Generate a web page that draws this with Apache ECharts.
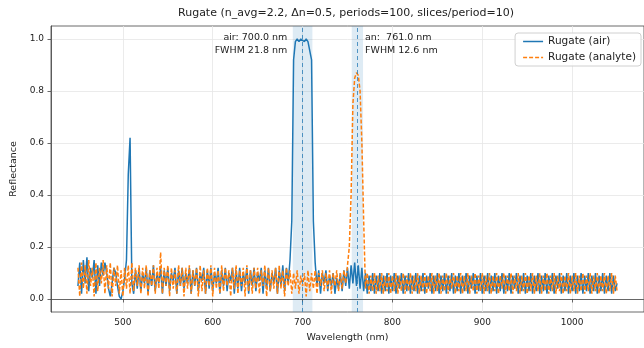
<!DOCTYPE html>
<html><head><meta charset="utf-8">
<script src="https://cdn.jsdelivr.net/npm/echarts@6/dist/echarts.min.js"></script>
<style>html,body{margin:0;padding:0;background:#fff}#c{width:644px;height:348px}</style>
</head><body><div id="c"></div>
<script>
const titleText = 'Rugate (n_avg=2.2, \u0394n=0.5, periods=100, slices/period=10)';
const seriesNames = ['Rugate (air)', 'Rugate (analyte)'];
const xAxisName = 'Wavelength (nm)';
const yAxisName = 'Reflectance';
const xTicks = [500, 600, 700, 800, 900, 1000];
const yTicks = [0, 0.2, 0.4, 0.6, 0.8, 1.0];
// sampling grid of the spectra (nm)
const wlStart = 450, wlStep = 2;
const airR = [
0.05,0.14,0.02,0.15,0.06,0.16,0.03,0.12,0.08,0.15,
0.02,0.13,0.05,0.14,0.09,0.14,0.10,0.04,0.01,0.06,
0.12,0.10,0.05,0.01,0.00,0.03,0.08,0.15,0.48,0.62,
0.06,0.02,0.11,0.04,0.12,0.03,0.10,0.06,0.12,0.02,
0.11,0.05,0.13,0.03,0.10,0.06,0.12,0.02,0.11,0.05,
0.12,0.03,0.10,0.07,0.12,0.02,0.11,0.05,0.12,0.04,
0.10,0.06,0.12,0.02,0.11,0.05,0.12,0.03,0.10,0.07,
0.12,0.02,0.11,0.04,0.12,0.03,0.10,0.06,0.12,0.02,
0.11,0.05,0.12,0.03,0.10,0.07,0.12,0.02,0.11,0.04,
0.12,0.03,0.10,0.06,0.12,0.02,0.11,0.05,0.12,0.03,
0.10,0.07,0.12,0.02,0.11,0.04,0.12,0.03,0.10,0.06,
0.12,0.02,0.11,0.05,0.13,0.03,0.12,0.06,0.15,0.30,
0.92,0.99,1.00,0.99,1.00,1.00,0.99,1.00,0.99,0.99,
0.92,0.30,0.14,0.05,0.11,0.02,0.10,0.06,0.11,0.03,
0.09,0.05,0.10,0.02,0.08,0.04,0.10,0.03,0.11,0.05,
0.12,0.04,0.13,0.06,0.14,0.05,0.13,0.04,0.12,0.03,
0.10,0.02,0.09,0.03,0.10,0.02,0.09,0.03,0.10,0.02,
0.09,0.03,0.10,0.02,0.09,0.03,0.10,0.02,0.09,0.04,
0.10,0.02,0.09,0.03,0.10,0.02,0.09,0.03,0.10,0.02,
0.09,0.03,0.10,0.02,0.09,0.04,0.10,0.02,0.09,0.03,
0.10,0.02,0.09,0.03,0.10,0.02,0.09,0.03,0.10,0.02,
0.09,0.03,0.10,0.02,0.09,0.03,0.10,0.02,0.09,0.04,
0.10,0.02,0.09,0.03,0.10,0.02,0.09,0.03,0.10,0.02,
0.09,0.03,0.10,0.02,0.09,0.03,0.10,0.02,0.09,0.03,
0.10,0.02,0.09,0.04,0.10,0.02,0.09,0.03,0.10,0.02,
0.09,0.03,0.10,0.02,0.09,0.03,0.10,0.02,0.09,0.03,
0.10,0.02,0.09,0.03,0.10,0.02,0.09,0.04,0.10,0.02,
0.09,0.03,0.10,0.02,0.09,0.03,0.10,0.02,0.09,0.03,
0.10,0.02,0.09,0.03,0.10,0.02,0.09,0.03,0.10,0.02,
0.09,0.03,0.10,0.02,0.09,0.03,0.10,0.02,0.09,0.03,
0.06
];
const analyteR = [
0.12,0.01,0.14,0.04,0.13,0.02,0.15,0.05,0.12,0.01,
0.14,0.03,0.12,0.06,0.15,0.02,0.13,0.04,0.14,0.01,
0.12,0.05,0.13,0.02,0.11,0.01,0.12,0.04,0.13,0.02,
0.14,0.03,0.12,0.05,0.13,0.02,0.12,0.04,0.13,0.01,
0.11,0.05,0.13,0.02,0.12,0.04,0.18,0.02,0.12,0.05,
0.13,0.01,0.12,0.04,0.11,0.02,0.13,0.05,0.12,0.01,
0.12,0.04,0.13,0.02,0.11,0.05,0.12,0.01,0.13,0.03,
0.11,0.02,0.12,0.05,0.13,0.01,0.12,0.04,0.11,0.02,
0.13,0.03,0.12,0.05,0.11,0.01,0.12,0.04,0.13,0.02,
0.11,0.05,0.12,0.01,0.13,0.03,0.11,0.02,0.12,0.04,
0.12,0.02,0.11,0.05,0.13,0.01,0.12,0.03,0.11,0.04,
0.12,0.02,0.13,0.04,0.11,0.01,0.12,0.05,0.11,0.02,
0.10,0.04,0.11,0.02,0.09,0.05,0.10,0.01,0.11,0.03,
0.10,0.04,0.11,0.02,0.10,0.05,0.11,0.03,0.10,0.04,
0.11,0.02,0.10,0.05,0.11,0.03,0.10,0.04,0.11,0.06,
0.13,0.20,0.40,0.75,0.85,0.87,0.86,0.80,0.60,0.30,
0.04,0.10,0.02,0.09,0.03,0.10,0.02,0.09,0.03,0.10,
0.02,0.09,0.03,0.10,0.02,0.09,0.03,0.10,0.02,0.09,
0.03,0.10,0.02,0.09,0.03,0.10,0.02,0.09,0.03,0.10,
0.02,0.09,0.03,0.10,0.02,0.09,0.03,0.10,0.02,0.09,
0.03,0.10,0.02,0.09,0.03,0.10,0.02,0.09,0.04,0.10,
0.02,0.09,0.03,0.10,0.02,0.09,0.03,0.10,0.02,0.09,
0.03,0.10,0.02,0.09,0.03,0.10,0.02,0.09,0.03,0.10,
0.02,0.09,0.03,0.10,0.02,0.09,0.04,0.10,0.02,0.09,
0.03,0.10,0.02,0.09,0.03,0.10,0.02,0.09,0.03,0.10,
0.02,0.09,0.03,0.10,0.02,0.09,0.03,0.10,0.02,0.09,
0.03,0.10,0.02,0.09,0.03,0.10,0.02,0.09,0.03,0.10,
0.02,0.09,0.03,0.10,0.02,0.09,0.03,0.10,0.02,0.09,
0.03,0.10,0.02,0.09,0.03,0.10,0.02,0.09,0.03,0.10,
0.02,0.09,0.03,0.10,0.02,0.09,0.03,0.10,0.02,0.09,
0.03
];
// peak annotations: centre and FWHM (nm)
const peakLabels = ['air: 700.0 nm\nFWHM 21.8 nm', 'an:  761.0 nm\nFWHM 12.6 nm'];
const peakCenters = [700.0, 761.0];
const peakFwhm = [21.8, 12.6];

const FONT = 'DejaVu Sans';
const BLUE = '#1f77b4', ORANGE = '#ff7f0e';
const wl = airR.map((_, i) => wlStart + i * wlStep);
const airData = wl.map((w, i) => [w, airR[i]]);
const anData = wl.map((w, i) => [w, analyteR[i]]);

// legend handle shapes (solid line, dashed line)
const solidIcon = 'path://M0,0h20v1.5h-20z';
const dashIcon = 'path://M0,0h4v1.5h-4zM6,0h4v1.5h-4zM12,0h4v1.5h-4zM18,0h2v1.5h-2z';

const chart = echarts.init(document.getElementById('c'), null, {renderer: 'canvas'});
const option = {
  animation: false,
  backgroundColor: '#fff',
  textStyle: {fontFamily: FONT},
  title: {
    text: titleText, left: 346, top: 8, textAlign: 'center', padding: 0,
    textStyle: {fontFamily: FONT, fontSize: 11, fontWeight: 'normal', color: '#222'}
  },
  legend: {
    orient: 'vertical', right: 3, top: 33,
    data: [{name: seriesNames[0], icon: solidIcon}, {name: seriesNames[1], icon: dashIcon}],
    itemWidth: 20, itemHeight: 13, itemGap: 5,
    padding: [3, 5, 3, 8],
    backgroundColor: 'rgba(255,255,255,0.85)',
    borderColor: '#d0d0d0', borderWidth: 1, borderRadius: 3,
    textStyle: {fontFamily: FONT, fontSize: 10.5, color: '#222'}
  },
  grid: {left: 51, top: 26, right: -2, bottom: 36, show: true, borderColor: '#444', borderWidth: 0.8, backgroundColor: 'transparent'},
  xAxis: {
    type: 'value', min: 420, max: 1080,
    name: xAxisName, nameLocation: 'middle', nameGap: 21,
    nameTextStyle: {fontFamily: FONT, fontSize: 9.5, color: '#222'},
    axisLine: {show: true, lineStyle: {color: '#444', width: 0.8}},
    axisTick: {show: true, length: 3.5, customValues: xTicks, lineStyle: {color: '#444', width: 0.8}},
    axisLabel: {customValues: xTicks, margin: 6, fontFamily: FONT, fontSize: 9, color: '#222', formatter: v => String(v)},
    splitLine: {show: true, lineStyle: {color: '#e6e6e6', width: 0.8}}
  },
  yAxis: {
    type: 'value', min: -0.05, max: 1.05,
    name: yAxisName, nameLocation: 'middle', nameGap: 29,
    nameTextStyle: {fontFamily: FONT, fontSize: 9.5, color: '#222'},
    axisLine: {show: true, lineStyle: {color: '#444', width: 0.8}},
    axisTick: {show: true, length: 3.5, customValues: yTicks, lineStyle: {color: '#444', width: 0.8}},
    axisLabel: {customValues: yTicks, margin: 7, fontFamily: FONT, fontSize: 9, color: '#222', formatter: v => v.toFixed(1)},
    splitLine: {show: true, lineStyle: {color: '#e6e6e6', width: 0.8}}
  },
  series: [
    {
      name: seriesNames[0], type: 'line', data: airData, showSymbol: false, symbol: 'none',
      lineStyle: {color: BLUE, width: 1.5}, itemStyle: {color: BLUE},
      markArea: {
        silent: true,
        itemStyle: {color: 'rgba(31,119,180,0.15)'},
        data: peakCenters.map((c, k) => [{xAxis: c - peakFwhm[k] / 2}, {xAxis: c + peakFwhm[k] / 2}])
      },
      markLine: {
        silent: true, symbol: 'none', label: {show: false},
        lineStyle: {color: BLUE, type: [4, 3], width: 1, opacity: 0.75},
        data: peakCenters.map(c => ({xAxis: c}))
      }
    },
    {
      name: seriesNames[1], type: 'line', data: anData, showSymbol: false, symbol: 'none',
      lineStyle: {color: ORANGE, width: 1.5, type: [4, 2]}, itemStyle: {color: ORANGE}
    }
  ]
};
chart.setOption(option);

// annotation texts anchored in data coordinates
const anchors = [[peakCenters[0] - 17, 1.03], [peakCenters[1] + 8.5, 1.03]];
const aligns = ['right', 'left'];
const g = anchors.map((a, k) => {
  const p = chart.convertToPixel({gridIndex: 0}, a);
  return {
    type: 'text', x: p[0], y: p[1], z: 100,
    style: {text: peakLabels[k], align: aligns[k], verticalAlign: 'top', fontFamily: FONT, fontSize: 9.5, lineHeight: 13, fill: '#222'}
  };
});
chart.setOption({graphic: g});
</script>
</body></html>
